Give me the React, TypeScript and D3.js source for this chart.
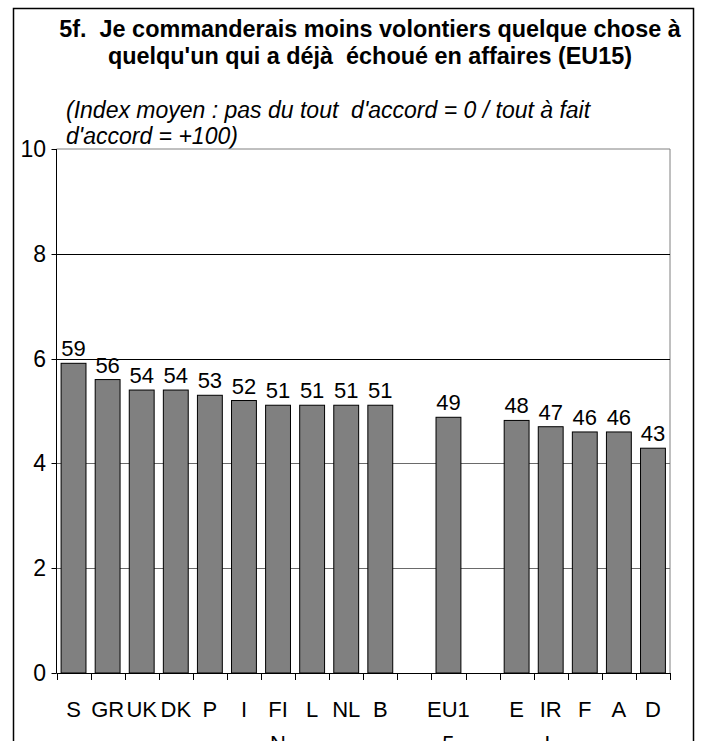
import React from 'react';
import * as d3 from 'd3';

// chart data
const categories = ['S', 'GR', 'UK', 'DK', 'P', 'I', 'FIN', 'L', 'NL', 'B', '', 'EU15', '', 'E', 'IRL', 'F', 'A', 'D'];
// category labels as Excel wrapped them in the narrow slots
const categoryLines = [['S'], ['GR'], ['UK'], ['DK'], ['P'], ['I'], ['FI', 'N'], ['L'], ['NL'], ['B'], [], ['EU1', '5'], [], ['E'], ['IR', 'L'], ['F'], ['A'], ['D']];
const barValues = [5.91, 5.6, 5.4, 5.4, 5.3, 5.2, 5.11, 5.11, 5.11, 5.11, null, 4.88, null, 4.82, 4.7, 4.6, 4.6, 4.29];
const valueLabels = [59, 56, 54, 54, 53, 52, 51, 51, 51, 51, null, 49, null, 48, 47, 46, 46, 43];
const yTicks = [0, 2, 4, 6, 8, 10];
const titleLines = ['5f.  Je commanderais moins volontiers quelque chose à', "quelqu'un qui a déjà  échoué en affaires (EU15)"];
const subtitleLines = ["(Index moyen : pas du tout  d'accord = 0 / tout à fait", "d'accord = +100)"];

const W = 701;
const H = 741;
const margin = { left: 56.5, right: 670, top: 149, bottom: 673 };
const FONT = 'Arial, "Liberation Sans", sans-serif';
const LABEL_SIZE = 22;

export default function App() {
	const x = d3
		.scaleBand<number>()
		.domain(categories.map((_, i) => i))
		.range([margin.left, margin.right])
		.padding(0);
	const y = d3.scaleLinear().domain([0, 10]).range([margin.bottom, margin.top]);
	const bw = x.bandwidth() * 0.73;
	const px = (v: number) => Math.round(v) + 0.5;

	return (
		<svg width={W} height={H} style={{ position: 'absolute', left: 0, top: 0 }} fontFamily={FONT}>
			<rect x={0} y={0} width={W} height={H} fill="#fff" />
			{/* outer frame */}
			<rect x={13.5} y={8.5} width={680} height={800} fill="none" stroke="#000" strokeWidth={1.5} />

			{titleLines.map((t, i) => (
				<text
					key={t}
					xmlSpace="preserve"
					x={370}
					y={37 + i * 27}
					textAnchor="middle"
					fontSize={23.4}
					fontWeight="bold"
				>
					{t}
				</text>
			))}
			{subtitleLines.map((t, i) => (
				<text key={t} xmlSpace="preserve" x={66} y={118 + i * 26} fontSize={23} fontStyle="italic">
					{t}
				</text>
			))}

			{/* plot area border */}
			<path
				d={`M${margin.left},${margin.top}H${margin.right}V${margin.bottom}`}
				fill="none"
				stroke="#808080"
				strokeWidth={1}
			/>
			{/* gridlines */}
			{yTicks.slice(1, -1).map((t) => (
				<line
					key={t}
					x1={margin.left}
					x2={margin.right}
					y1={px(y(t))}
					y2={px(y(t))}
					stroke={t >= 6 ? '#000' : '#6a6a6a'}
				/>
			))}

			{/* bars */}
			{barValues.map((v, i) =>
				v == null ? null : (
					<g key={i}>
						<rect
							x={(x(i) as number) + (x.bandwidth() - bw) / 2}
							y={y(v)}
							width={bw}
							height={y(0) - y(v)}
							fill="#808080"
							stroke="#000"
							strokeWidth={1}
						/>
						<text
							x={(x(i) as number) + x.bandwidth() / 2}
							y={y(v) - 7}
							textAnchor="middle"
							fontSize={LABEL_SIZE}
						>
							{valueLabels[i]}
						</text>
					</g>
				)
			)}

			{/* y axis */}
			<line x1={margin.left} x2={margin.left} y1={margin.top} y2={margin.bottom} stroke="#000" />
			{yTicks.map((t) => (
				<g key={t}>
					<line x1={margin.left - 5} x2={margin.left} y1={px(y(t))} y2={px(y(t))} stroke="#000" />
					<text x={46} y={y(t) + 8} textAnchor="end" fontSize={23}>
						{t}
					</text>
				</g>
			))}

			{/* x axis */}
			<line x1={margin.left} x2={margin.right} y1={margin.bottom + 0.5} y2={margin.bottom + 0.5} stroke="#000" />
			{[...x.domain().map((i) => x(i) as number), margin.right].map((tx, i) => (
				<line key={'t' + i} x1={px(tx)} x2={px(tx)} y1={margin.bottom} y2={margin.bottom + 7} stroke="#000" />
			))}
			{categoryLines.map((lines, i) =>
				lines.map((line, j) => (
					<text
						key={categories[i] + j}
						x={(x(i) as number) + x.bandwidth() / 2}
						y={717 + j * 34}
						textAnchor="middle"
						fontSize={LABEL_SIZE}
					>
						{line}
					</text>
				))
			)}
		</svg>
	);
}
